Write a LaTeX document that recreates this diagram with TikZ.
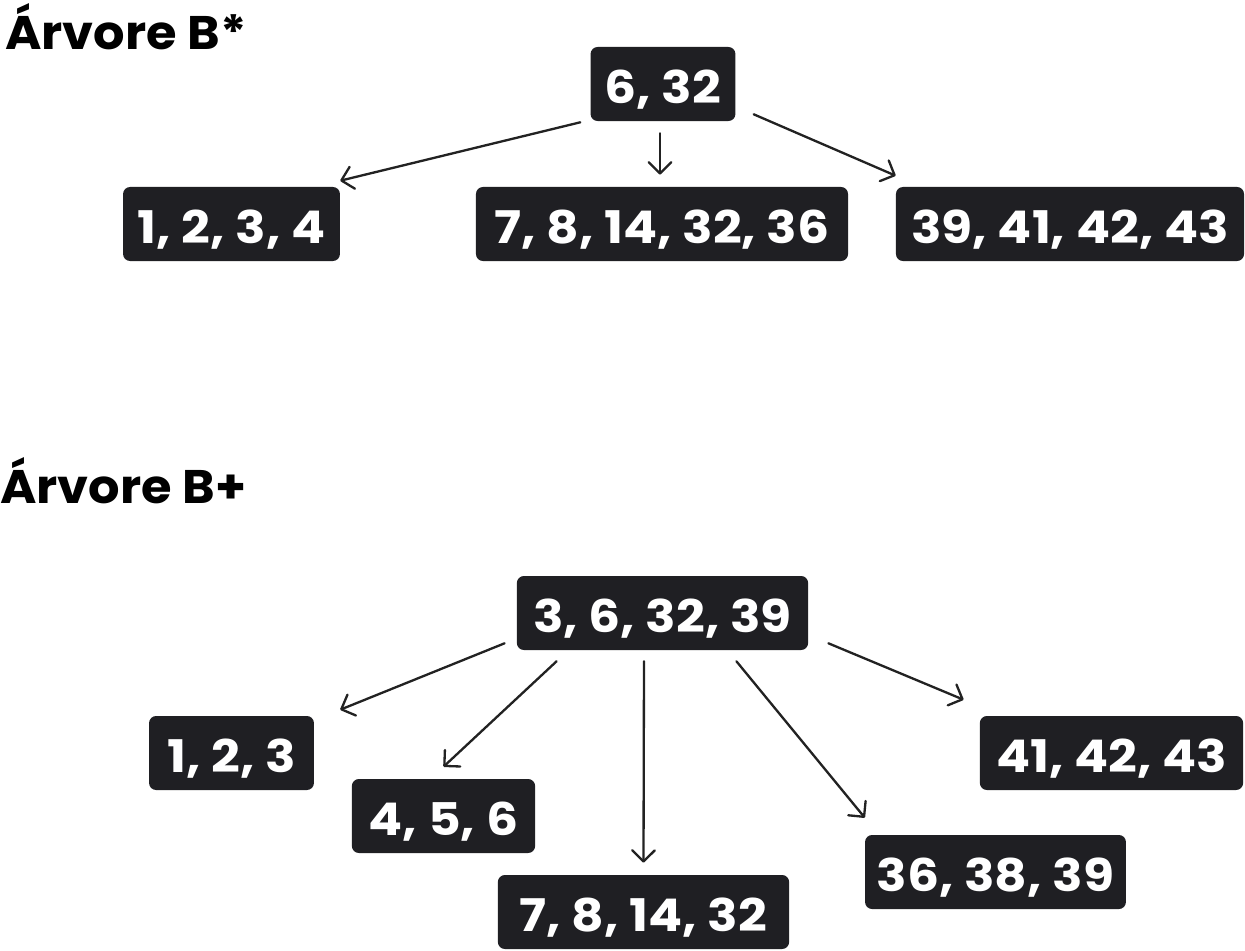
\documentclass[tikz,border=0pt]{standalone}
\usepackage{fontspec}
\setmainfont{Poppins}[BoldFont={* Bold},FakeStretch=1.12]
\newfontfamily\titlefont{Poppins}[BoldFont={* Bold},FakeStretch=1.05]
\usetikzlibrary{calc,arrows.meta}
\definecolor{boxdark}{HTML}{1F1F23}
\definecolor{linedark}{HTML}{222222}
\tikzset{
 keybox/.style={fill=boxdark,text=white,rounded corners=5pt,minimum height=1.85cm,inner xsep=0pt,text height=28pt,text depth=0pt,font=\fontsize{32}{36}\selectfont\bfseries},
 treetitle/.style={anchor=base west,inner sep=0pt,font=\titlefont\fontsize{33.5}{38}\selectfont\bfseries},
 ptr/.style={draw=linedark,line width=1.65pt,line cap=round,-{Straight Barb[length=8pt,width=16pt,line width=1.65pt,round]}}
}
\begin{document}
\begin{tikzpicture}[x=0.025cm,y=-0.025cm]
 \useasboundingbox (0,0) rectangle (1245,950);
 % arvore B*
 \node[treetitle] (titleA) at (5,49) {Árvore B*};
 \node[keybox,minimum width=3.62cm] (rootA) at (663,84) {6, 32};
 \node[keybox,minimum width=5.42cm] (leafA1) at (231.5,224) {1, 2, 3, 4};
 \node[keybox,minimum width=9.3cm] (leafA2) at (662,224) {7, 8, 14, 32, 36};
 \node[keybox,minimum width=8.7cm] (leafA3) at (1070,224) {39, 41, 42, 43};
 \draw[ptr] ($(rootA.south west)+(-10,1)$) -- ($(leafA1.north east)+(0,-6)$);
 \draw[ptr] ($(rootA.south)+(-3,12)$) -- ($(leafA2.north)+(-2,-12)$);
 \draw[ptr] ($(rootA.south east)+(18,-7)$) -- ($(leafA3.north west)+(0,-11)$);
 % arvore B+
 \node[treetitle] (titleB) at (0,503) {Árvore B+};
 \node[keybox,minimum width=7.28cm] (rootB) at (662.5,613) {3, 6, 32, 39};
 \node[keybox,minimum width=4.12cm] (leafB1) at (231.5,753) {1, 2, 3};
 \node[keybox,minimum width=4.58cm] (leafB2) at (443.5,816) {4, 5, 6};
 \node[keybox,minimum width=7.28cm] (leafB3) at (643.5,912) {7, 8, 14, 32};
 \node[keybox,minimum width=6.52cm] (leafB4) at (995.5,872) {36, 38, 39};
 \node[keybox,minimum width=6.58cm] (leafB5) at (1111.5,753) {41, 42, 43};
 \draw[ptr] ($(rootB.south west)+(-12,-7)$) -- ($(leafB1.north east)+(26,-6)$);
 \draw[ptr] ($(rootB.south west)+(40,11)$) -- ($(leafB2.north)+(0,-12)$);
 \draw[ptr] ($(rootB.south)+(-18.5,11)$) -- ($(leafB3.north)+(0,-12)$);
 \draw[ptr] ($(rootB.south east)+(-72,11)$) -- ($(leafB4.north west)+(0,-17)$);
 \draw[ptr] ($(rootB.south east)+(20,-7)$) -- ($(leafB5.north west)+(-16,-16)$);
\end{tikzpicture}
\end{document}
